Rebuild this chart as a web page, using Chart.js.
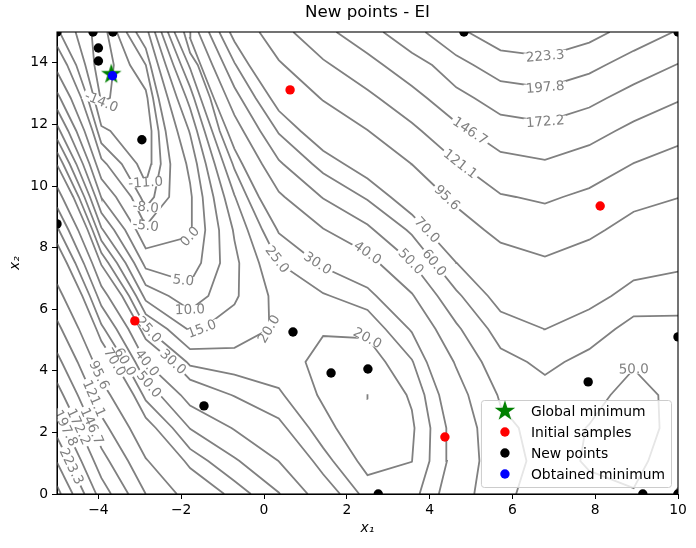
<!DOCTYPE html>
<html lang="en">
<head>
    <meta charset="UTF-8">
    <title>New points - EI</title>
    <script src="https://cdn.jsdelivr.net/npm/chart.js"></script>
    <style>
        body { margin: 0; background: #fff; }
        #wrap { width: 696px; height: 548px; }
    </style>
</head>
<body>
<div id="wrap"><canvas id="chart" width="696" height="548"></canvas></div>
<script>
// contour lines, [x1, x2] pairs
const lvM14 = [[-4.167,15],[-4.098,13.929],[-3.953,12.857],[-3.929,12.73],[-3.72,12.857],[-3.627,13.929],[-3.786,15]];
const lvM11 = [[-4.551,15],[-4.317,13.929],[-4.107,12.857],[-3.929,11.95],[-3.711,11.786],[-3.067,10.714],[-2.857,10.11],[-2.724,10.714],[-2.717,11.786],[-2.815,12.857],[-2.857,13.12],[-3.237,13.929],[-3.555,15]];
const lvM8 = [[-4.936,15],[-4.537,13.929],[-4.26,12.857],[-4.022,11.786],[-3.929,11.39],[-3.434,10.714],[-2.981,9.643],[-2.857,9.31],[-2.655,9.643],[-2.493,10.714],[-2.547,11.786],[-2.681,12.857],[-2.854,13.929],[-3.323,15]];
const lvM5 = [[-5,14.54],[-4.756,13.929],[-4.414,12.857],[-4.14,11.786],[-3.929,10.89],[-3.8,10.714],[-3.204,9.643],[-2.857,8.71],[-2.291,9.643],[-2.262,10.714],[-2.377,11.786],[-2.547,12.857],[-2.743,13.929],[-2.857,14.47],[-3.092,15]];
const lv0 = [[-5,13.71],[-4.669,12.857],[-4.336,11.786],[-4.055,10.714],[-3.929,10.23],[-3.575,9.643],[-3.088,8.571],[-2.857,7.97],[-1.786,8.36],[-1.752,8.571],[-1.743,9.643],[-1.786,10.09],[-1.876,10.714],[-2.094,11.786],[-2.323,12.857],[-2.558,13.929],[-2.795,15]];
const lv5 = [[-5,13.05],[-4.925,12.857],[-4.533,11.786],[-4.214,10.714],[-3.935,9.643],[-3.929,9.62],[-3.354,8.571],[-2.927,7.5],[-2.857,7.32],[-1.786,6.866],[-1.52,7.5],[-1.419,8.571],[-1.482,9.643],[-1.62,10.714],[-1.786,11.675],[-1.81,11.786],[-2.1,12.857],[-2.373,13.929],[-2.638,15]];
const lv10 = [[-5,12.494],[-4.729,11.786],[-4.374,10.714],[-4.069,9.643],[-3.929,9.133],[-3.621,8.571],[-3.135,7.5],[-2.857,6.78],[-2.3,6.429],[-1.786,5.983],[-1.345,6.429],[-1.061,7.5],[-1.085,8.571],[-1.22,9.643],[-1.405,10.714],[-1.619,11.786],[-1.786,12.527],[-1.876,12.857],[-2.188,13.929],[-2.48,15]];
const lv15 = [[-5,11.98],[-4.926,11.786],[-4.533,10.714],[-4.204,9.643],[-3.929,8.647],[-3.887,8.571],[-3.343,7.5],[-2.917,6.429],[-2.857,6.275],[-1.861,5.357],[-1.786,5.268],[-1.492,5.357],[-0.714,6.154],[-0.61,6.429],[-0.597,7.5],[-0.714,8.236],[-0.752,8.571],[-0.958,9.643],[-1.19,10.714],[-1.436,11.786],[-1.691,12.857],[-1.786,13.217],[-2.003,13.929],[-2.323,15]];
const lv15b = [[2.5,3.08],[2.507,3.214],[2.5,3.236],[2.49,3.214],[2.5,3.08]];
const lv20 = [[-5,11.524],[-4.693,10.714],[-4.338,9.643],[-4.026,8.571],[-3.929,8.232],[-3.551,7.5],[-3.087,6.429],[-2.857,5.838],[-2.335,5.357],[-1.786,4.705],[-0.714,4.746],[0.128,5.357],[0.107,6.429],[-0.119,7.5],[-0.396,8.571],[-0.694,9.643],[-0.714,9.704],[-0.974,10.714],[-1.253,11.786],[-1.532,12.857],[-1.786,13.822],[-1.82,13.929],[-2.165,15]];
const lv20b = [[1.429,2.875],[1.739,2.143],[2.254,1.071],[2.5,0.613],[3.571,1.047],[3.577,1.071],[3.636,2.143],[3.571,2.731],[3.443,3.214],[2.933,4.286],[2.5,5.056],[1.429,5.13],[1.002,4.286],[1.285,3.214],[1.429,2.875]];
const lv25a = [[-5,11.1],[-4.853,10.714],[-4.473,9.643],[-4.143,8.571],[-3.929,7.829],[-3.759,7.5],[-3.258,6.429],[-2.857,5.4],[-2.811,5.357],[-1.87,4.286],[-1.786,4.168],[-0.714,3.878],[0.357,3.441],[0.481,3.214],[1.091,2.143],[1.429,1.497],[1.667,1.071],[2.299,0]];
const lv25b = [[3.758,0],[3.998,1.071],[4.02,2.143],[3.876,3.214],[3.602,4.286],[3.571,4.37],[2.932,5.357],[2.5,5.976],[1.607,6.429],[1.429,6.521],[0.359,7.5],[-0.038,8.571],[-0.408,9.643],[-0.714,10.544],[-0.758,10.714],[-1.07,11.786],[-1.3,12.857],[-1.6,13.929],[-1.786,14.324],[-1.936,15]];
const lv30a = [[-5,10.687],[-4.607,9.643],[-4.259,8.571],[-3.947,7.5],[-3.929,7.438],[-3.428,6.429],[-2.988,5.357],[-2.857,5.024],[-2.199,4.286],[-1.786,3.713],[-0.789,3.214],[-0.714,3.17],[0.357,2.45],[0.543,2.143],[1.182,1.071],[1.429,0.641],[1.837,0]];
const lv30b = [[4.224,0],[4.419,1.071],[4.404,2.143],[4.23,3.214],[3.93,4.286],[3.571,5.25],[3.503,5.357],[2.709,6.429],[2.5,6.699],[1.429,7.361],[1.276,7.5],[0.357,8.469],[0.32,8.571],[-0.122,9.643],[-0.524,10.714],[-0.714,11.207],[-0.886,11.786],[-1.213,12.857],[-1.529,13.929],[-1.786,14.804],[-1.779,15]];
const lv40a = [[-5,9.971],[-4.876,9.643],[-4.49,8.571],[-4.151,7.5],[-3.929,6.751],[-3.769,6.429],[-3.276,5.357],[-2.857,4.287],[-2.011,3.214],[-1.786,2.873],[-0.787,2.143],[-0.714,2.08],[0.348,1.071],[0.357,1.061],[1.056,0]];
const lv40b = [[5.079,0],[5.203,1.071],[5.15,2.143],[4.932,3.214],[4.643,4.092],[4.584,4.286],[4.143,5.357],[3.622,6.429],[3.571,6.519],[2.776,7.5],[2.5,7.826],[1.493,8.571],[1.429,8.62],[0.499,9.643],[0.357,9.812],[-0.048,10.714],[-0.5,11.786],[-0.714,12.302],[-0.896,12.857],[-1.247,13.929],[-1.585,15]];
const lv50a = [[-5,9.31],[-4.722,8.571],[-4.355,7.5],[-4.025,6.429],[-3.929,6.111],[-3.565,5.357],[-3.108,4.286],[-2.857,3.651],[-2.512,3.214],[-1.802,2.143],[-1.786,2.117],[-0.714,1.187],[-0.592,1.071],[0.357,0.05],[0.39,0]];
const lv50b = [[6.09,0],[6.34,1.071],[6.154,2.143],[5.714,2.867],[5.637,3.214],[5.26,4.286],[4.761,5.357],[4.643,5.556],[4.192,6.429],[3.582,7.5],[3.571,7.516],[2.657,8.571],[2.5,8.747],[1.429,9.594],[1.384,9.643],[0.463,10.714],[0.357,10.843],[-0.091,11.786],[-0.561,12.857],[-0.714,13.206],[-0.966,13.929],[-1.332,15]];
const lv50c = [[7.857,0.75],[7.64,1.071],[7.768,2.143],[7.857,2.266],[8.37,3.214],[8.929,4.051],[9.524,3.214],[9.555,2.143],[9.281,1.071],[8.929,0.189],[7.857,0.75]];
const lv60a = [[-5,8.694],[-4.954,8.571],[-4.559,7.5],[-4.207,6.429],[-3.929,5.512],[-3.854,5.357],[-3.358,4.286],[-2.926,3.214],[-2.857,3.04],[-2.208,2.143],[-1.786,1.463],[-1.349,1.071],[-0.714,0.42],[-0.317,0]];
const lv60b = [[10,5.789],[8.929,5.767],[8.486,5.357],[7.857,4.703],[7.257,4.286],[6.786,3.865],[6.357,4.286],[5.714,4.734],[5.414,5.357],[4.776,6.429],[4.643,6.618],[4.117,7.5],[3.571,8.412],[3.442,8.571],[2.5,9.546],[2.38,9.643],[1.429,10.414],[1.168,10.714],[0.357,11.7],[0.316,11.786],[-0.203,12.857],[-0.679,13.929],[-0.714,14.005],[-1.08,15]];
const lv60c = [[9.897,0],[10,0.202]];
const lv70a = [[-5,8.134],[-4.763,7.5],[-4.39,6.429],[-4.05,5.357],[-3.929,4.965],[-3.609,4.286],[-3.148,3.214],[-2.857,2.479],[-2.614,2.143],[-1.922,1.071],[-1.786,0.842],[-0.961,0]];
const lv70b = [[10,7.223],[8.929,6.939],[8.391,6.429],[7.857,5.996],[6.805,5.357],[6.786,5.344],[6.766,5.357],[5.714,5.924],[5.41,6.429],[4.655,7.5],[4.643,7.515],[3.935,8.571],[3.571,9.075],[3.058,9.643],[2.5,10.24],[1.937,10.714],[1.429,11.147],[0.884,11.786],[0.357,12.442],[0.154,12.857],[-0.362,13.929],[-0.714,14.691],[-0.828,15]];
const lv96a = [[-5,6.818],[-4.855,6.429],[-4.471,5.357],[-4.12,4.286],[-3.929,3.678],[-3.713,3.214],[-3.245,2.143],[-2.857,1.163],[-2.794,1.071],[-2.105,0]];
const lv96b = [[10,9.608],[8.929,9.165],[8.243,8.571],[7.857,8.257],[6.786,7.709],[5.714,8.162],[5.323,8.571],[4.643,9.317],[4.402,9.643],[3.571,10.706],[3.563,10.714],[2.5,11.815],[1.429,12.765],[1.351,12.857],[0.481,13.929],[0.357,14.088],[-0.112,15]];
const lv121a = [[-5,5.648],[-4.892,5.357],[-4.504,4.286],[-4.146,3.214],[-3.929,2.532],[-3.751,2.143],[-3.282,1.071],[-2.857,0]];
const lv121b = [[10,11.302],[8.929,10.742],[8.89,10.714],[7.857,9.931],[7.219,9.643],[6.786,9.43],[6.087,9.643],[5.714,9.743],[4.738,10.714],[4.643,10.801],[3.808,11.786],[3.571,12.052],[2.773,12.857],[2.5,13.128],[1.626,13.929],[1.429,14.111],[0.709,15]];
const lv147a = [[-5,4.59],[-4.887,4.286],[-4.499,3.214],[-4.141,2.143],[-3.929,1.488],[-3.741,1.071],[-3.277,0]];
const lv147b = [[10,12.732],[8.929,12.098],[8.485,11.786],[7.857,11.325],[6.786,10.851],[5.714,11.107],[4.975,11.786],[4.643,12.069],[3.935,12.857],[3.571,13.245],[2.882,13.929],[2.5,14.302],[1.75,15]];
const lv172a = [[-5,3.615],[-4.851,3.214],[-4.466,2.143],[-4.107,1.071],[-3.929,0.522],[-3.695,0]];
const lv172b = [[10,13.969],[9.934,13.929],[8.929,13.3],[8.286,12.857],[7.857,12.549],[6.786,12.087],[5.714,12.314],[5.078,12.857],[4.643,13.204],[4.06,13.929],[3.571,14.325],[2.881,15]];
const lv198a = [[-5,2.703],[-4.793,2.143],[-4.411,1.071],[-4.054,0]];
const lv198b = [[9.881,15],[8.929,14.389],[8.255,13.929],[7.857,13.648],[6.786,13.199],[5.714,13.402],[5.058,13.929],[4.643,14.242],[3.898,15]];
const lv223a = [[-5,1.843],[-4.714,1.071],[-4.337,0]];
const lv223b = [[8.352,15],[7.857,14.654],[6.786,14.215],[5.714,14.404],[4.927,15]];
const lv249 = [[-5,1.026],[-4.621,0]];
const lv274 = [[-5,0.26],[-4.904,0]];

const contourLines = [lvM14, lvM11, lvM8, lvM5, lv0, lv5, lv10, lv15, lv15b, lv20, lv20b,
    lv25a, lv25b, lv30a, lv30b, lv40a, lv40b, lv50a, lv50b, lv50c, lv60a, lv60b, lv60c,
    lv70a, lv70b, lv96a, lv96b, lv121a, lv121b, lv147a, lv147b, lv172a, lv172b,
    lv198a, lv198b, lv223a, lv223b, lv249, lv274];

// inline labels: text, line, rough spot on the line
const contourLabels = [
    ['-14.0', lvM14, -3.93, 12.73], ['-11.0', lvM11, -2.86, 10.11], ['-8.0', lvM8, -2.86, 9.31],
    ['-5.0', lvM5, -2.86, 8.71], ['0.0', lv0, -1.79, 8.36], ['5.0', lv5, -1.95, 6.93],
    ['10.0', lv10, -1.79, 5.98], ['15.0', lv15, -1.5, 5.36], ['20.0', lv20, 0.12, 5.36],
    ['20.0', lv20b, 2.5, 5.06], ['25.0', lv25a, -2.75, 5.39], ['25.0', lv25b, 0.3, 7.6],
    ['30.0', lv30a, -2.2, 4.29], ['30.0', lv30b, 1.3, 7.5], ['40.0', lv40a, -2.83, 4.25],
    ['40.0', lv40b, 2.5, 7.83], ['50.0', lv50a, -2.75, 3.6], ['50.0', lv50b, 3.55, 7.55],
    ['50.0', lv50c, 8.93, 4.05], ['60.0', lv60a, -3.36, 4.29], ['60.0', lv60b, 4.1, 7.5],
    ['70.0', lv70a, -3.6, 4.29], ['70.0', lv70b, 3.94, 8.57], ['95.6', lv96a, -4.0, 3.85],
    ['95.6', lv96b, 4.42, 9.62], ['121.1', lv121a, -4.1, 3.1], ['121.1', lv121b, 4.74, 10.71],
    ['146.7', lv147a, -4.15, 2.2], ['146.7', lv147b, 4.98, 11.79], ['172.2', lv172a, -4.45, 2.2],
    ['172.2', lv172b, 6.79, 12.09], ['197.8', lv198a, -4.7, 2.2], ['197.8', lv198b, 6.79, 13.2],
    ['223.3', lv223a, -4.65, 0.9], ['223.3', lv223b, 6.79, 14.22]
];

const globalMin = [[-3.689, 13.63]];
const initialSamples = [[0.63, 13.12], [8.12, 9.35], [-3.12, 5.62], [4.37, 1.85]];
const newPoints = [[-5, 15], [-4.13, 15], [-3.65, 15], [-4.0, 14.48], [-4.0, 14.06], [-2.95, 11.5],
    [-5, 8.77], [4.83, 15], [10, 15], [0.7, 5.26], [1.62, 3.93], [2.51, 4.06], [2.76, 0],
    [-1.45, 2.86], [7.83, 3.64], [10, 5.1], [9.15, 0], [10, 0]];
const obtainedMin = [[-3.66, 13.58]];

const xTicks = [-4, -2, 0, 2, 4, 6, 8, 10];
const yTicks = [0, 2, 4, 6, 8, 10, 12, 14];
const legendNames = ['Global minimum', 'Initial samples', 'New points', 'Obtained minimum'];
const titleText = 'New points - EI';

const FONT = '"DejaVu Sans", sans-serif';
const GRAY = '#808080';
const DOT = 4.7;
const toXY = arr => arr.map(p => ({ x: p[0], y: p[1] }));
const minus = v => (v < 0 ? '\u2212' + Math.abs(v) : String(v));

function starCanvas(size, r) {
    const c = document.createElement('canvas');
    c.width = c.height = size;
    const g = c.getContext('2d');
    const m = size / 2;
    g.beginPath();
    for (let i = 0; i < 10; i++) {
        const a = -Math.PI / 2 + i * Math.PI / 5;
        const rr = i % 2 ? r * 0.382 : r;
        g.lineTo(m + rr * Math.cos(a), m + rr * Math.sin(a));
    }
    g.closePath();
    g.fillStyle = '#008000';
    g.fill();
    return c;
}
const star = starCanvas(24, 10.8);

function drawContourLabels(chart) {
    const ctx = chart.ctx, xs = chart.scales.x, ys = chart.scales.y, a = chart.chartArea;
    ctx.save();
    ctx.beginPath();
    ctx.rect(a.left, a.top, a.right - a.left, a.bottom - a.top);
    ctx.clip();
    ctx.font = '13.5px ' + FONT;
    ctx.textAlign = 'center';
    ctx.textBaseline = 'middle';
    contourLabels.forEach(([text, line, lx, ly]) => {
        const pts = line.map(p => [xs.getPixelForValue(p[0]), ys.getPixelForValue(p[1])]);
        const tx = xs.getPixelForValue(lx), ty = ys.getPixelForValue(ly);
        const cum = [0];
        for (let i = 1; i < pts.length; i++)
            cum.push(cum[i - 1] + Math.hypot(pts[i][0] - pts[i - 1][0], pts[i][1] - pts[i - 1][1]));
        let best = null;
        for (let i = 0; i < pts.length - 1; i++) {
            const [x0, y0] = pts[i], [x1, y1] = pts[i + 1];
            const dx = x1 - x0, dy = y1 - y0, L2 = dx * dx + dy * dy || 1;
            const t = Math.max(0, Math.min(1, ((tx - x0) * dx + (ty - y0) * dy) / L2));
            const px = x0 + t * dx, py = y0 + t * dy, d = Math.hypot(px - tx, py - ty);
            if (!best || d < best.d) best = { d, px, py, s: cum[i] + t * Math.sqrt(L2) };
        }
        const at = s => {
            s = Math.max(0, Math.min(cum[cum.length - 1], s));
            let i = 0;
            while (i < cum.length - 2 && cum[i + 1] < s) i++;
            const t = (s - cum[i]) / ((cum[i + 1] - cum[i]) || 1);
            return [pts[i][0] + t * (pts[i + 1][0] - pts[i][0]), pts[i][1] + t * (pts[i + 1][1] - pts[i][1])];
        };
        const w = ctx.measureText(text).width;
        const p = at(best.s - w / 2), q = at(best.s + w / 2);
        let ang = Math.atan2(q[1] - p[1], q[0] - p[0]);
        if (ang > Math.PI / 2) ang -= Math.PI;
        if (ang < -Math.PI / 2) ang += Math.PI;
        ctx.save();
        ctx.translate(best.px, best.py);
        ctx.rotate(ang);
        ctx.fillStyle = '#fff';
        ctx.fillRect(-w / 2 - 2, -4.5, w + 4, 9);
        ctx.fillStyle = GRAY;
        ctx.fillText(text, 0, 0.5);
        ctx.restore();
    });
    ctx.restore();
}

const figurePlugin = {
    id: 'figure',
    afterDatasetDraw(chart, args) {
        if (args.index === 0) drawContourLabels(chart);
    },
    afterDraw(chart) {
        const ctx = chart.ctx, a = chart.chartArea;
        ctx.save();
        ctx.strokeStyle = '#000';
        ctx.lineWidth = 1.1;
        ctx.strokeRect(a.left, a.top, a.right - a.left, a.bottom - a.top);

        // title centred over the axes, as matplotlib does
        ctx.fillStyle = '#000';
        ctx.font = '16.7px ' + FONT;
        ctx.textAlign = 'center';
        ctx.textBaseline = 'middle';
        ctx.fillText(titleText, (a.left + a.right) / 2, 13);

        // legend, lower right inside the axes
        ctx.font = '13.9px ' + FONT;
        const textW = Math.max(...legendNames.map(n => ctx.measureText(n).width));
        const right = a.right - 7, bottom = a.bottom - 7;
        const top = bottom - 87;
        const textX = right - 6 - textW, markX = textX - 26, left = markX - 24;
        ctx.beginPath();
        ctx.roundRect(left + 0.5, top + 0.5, right - left, bottom - top, 3);
        ctx.fillStyle = 'rgba(255,255,255,0.8)';
        ctx.fill();
        ctx.strokeStyle = '#cccccc';
        ctx.lineWidth = 1;
        ctx.stroke();
        const colors = [null, '#ff0000', '#000000', '#0000ff'];
        legendNames.forEach((name, i) => {
            const cy = top + 11 + i * 21;
            if (i === 0) {
                ctx.drawImage(star, markX - 12, cy - 12);
            } else {
                ctx.beginPath();
                ctx.arc(markX, cy, DOT, 0, Math.PI * 2);
                ctx.fillStyle = colors[i];
                ctx.fill();
            }
            ctx.fillStyle = '#000';
            ctx.textAlign = 'left';
            ctx.textBaseline = 'middle';
            ctx.fillText(name, textX, cy + 1);
        });
        ctx.restore();
    }
};

const contourSets = contourLines.map(line => ({
    data: toXY(line),
    showLine: true,
    borderColor: GRAY,
    borderWidth: 1.8,
    pointRadius: 0,
    tension: 0,
    clip: 0,
    order: 10
}));

const pointSet = (data, color, order, extra) => Object.assign({
    data: toXY(data),
    pointRadius: DOT,
    pointBackgroundColor: color,
    pointBorderColor: color,
    pointBorderWidth: 0,
    showLine: false,
    clip: 0,
    order: order
}, extra || {});

new Chart(document.getElementById('chart'), {
    type: 'scatter',
    data: {
        datasets: contourSets.concat([
            pointSet(globalMin, '#008000', 3, { pointStyle: star, pointRadius: 12 }),
            pointSet(initialSamples, '#ff0000', 2),
            pointSet(newPoints, '#000000', 1),
            pointSet(obtainedMin, '#0000ff', 0)
        ])
    },
    options: {
        responsive: false,
        animation: false,
        events: [],
        devicePixelRatio: 1,
        layout: { padding: { left: 0, right: 18, top: 32, bottom: 0 } },
        plugins: {
            legend: { display: false },
            tooltip: { enabled: false },
            title: { display: false }
        },
        scales: {
            x: {
                type: 'linear', min: -5, max: 10,
                afterBuildTicks: s => { s.ticks = xTicks.map(v => ({ value: v })); },
                afterFit: s => { s.height = 54; },
                ticks: { color: '#000', font: { family: FONT, size: 13.9 }, padding: 3, maxRotation: 0, callback: minus },
                grid: { display: true, drawOnChartArea: false, drawTicks: true, tickLength: 5, color: '#000' },
                border: { display: true, color: '#000' },
                title: { display: true, text: 'x\u2081', color: '#000', padding: { top: 11.7, bottom: 11.7 },
                         font: { family: FONT, size: 13.9, style: 'italic' } }
            },
            y: {
                type: 'linear', min: 0, max: 15,
                afterBuildTicks: s => { s.ticks = yTicks.map(v => ({ value: v })); },
                afterFit: s => { s.width = 57; },
                ticks: { color: '#000', font: { family: FONT, size: 13.9 }, padding: 4, callback: minus },
                grid: { display: true, drawOnChartArea: false, drawTicks: true, tickLength: 5, color: '#000' },
                border: { display: true, color: '#000' },
                title: { display: true, text: 'x\u2082', color: '#000', padding: { top: 6.7, bottom: 6.7 },
                         font: { family: FONT, size: 13.9, style: 'italic' } }
            }
        }
    },
    plugins: [figurePlugin]
});
</script>
</body>
</html>
